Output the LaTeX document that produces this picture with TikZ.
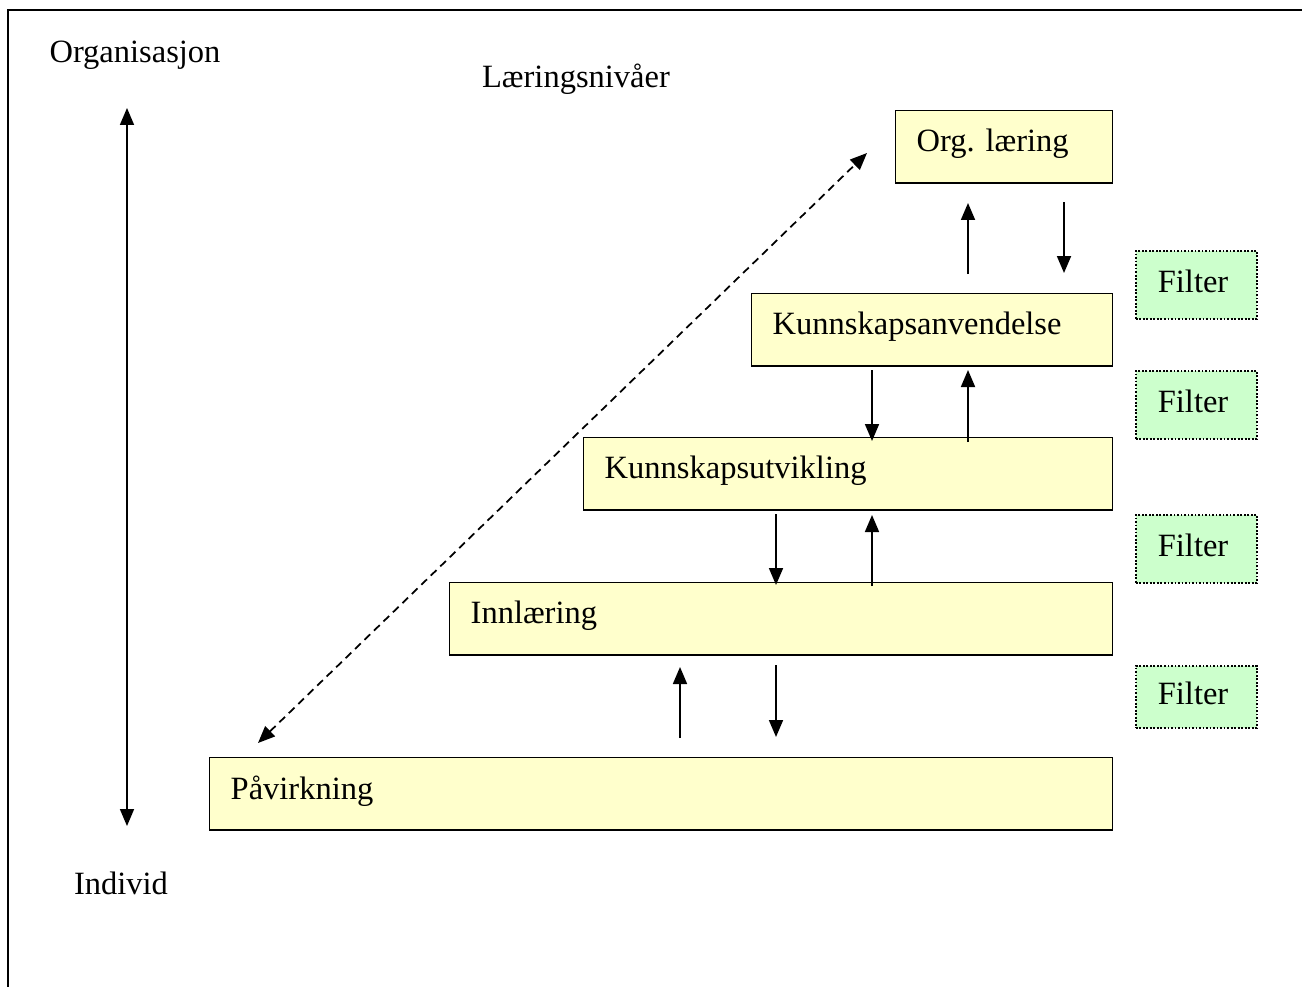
\documentclass[tikz,border=0pt]{standalone}
\usepackage{fontspec}
\setmainfont{Liberation Serif}
\usetikzlibrary{arrows.meta,positioning}
\definecolor{levelfill}{HTML}{FFFFCC}
\definecolor{filterfill}{HTML}{CCFFCC}

\begin{document}
\frenchspacing
\begin{tikzpicture}[x=0.02cm, y=-0.02cm, font=\fontsize{18.5}{22}\selectfont,
    level/.style={draw, line width=0.8pt, fill=levelfill, anchor=north west, align=left, inner xsep=0.42cm, text depth=0.26cm, minimum height=1.45cm},
    filter/.style={draw, densely dotted, line width=1pt, fill=filterfill, anchor=north west, align=left, text width=1.54cm, inner xsep=0.44cm, text depth=0.16cm, minimum height=1.36cm},
    arrow/.style={line width=1pt, -{Triangle[length=0.34cm,width=0.28cm]}},
    dblarrow/.style={line width=1pt, {Triangle[length=0.34cm,width=0.28cm]}-{Triangle[length=0.34cm,width=0.28cm]}}]

        \useasboundingbox (0,0) rectangle (1302,987);

        % frame
        \coordinate (frame_corner) at (8,10);
        \coordinate (frame_right) at (1302,10);
        \coordinate (frame_bottom) at (8,987);
        \draw [line width=1.1pt] (frame_bottom) -- (frame_corner) -- (frame_right);

        % labels
        \node (organisasjon) at (135,55) {Organisasjon};
        \node (individ) at (121,883) {Individ};
        \node (niva) at (576,79) {Læringsnivåer};

        % levels
        \node [level, text width=3.5cm] (org) at (895,110) {Org. læring};
        \node [level, text width=6.38cm] (anv) at (751,293) {Kunnskapsanvendelse};
        \node [level, text width=9.74cm] (utv) at (583,437) {Kunnskapsutvikling};
        \node [level, text width=12.42cm] (inn) at (449,582) {Innlæring};
        \node [level, text width=17.22cm] (pav) at (209,757) {Påvirkning};

        % filters
        \node [filter] (filter1) at (1135,250) {Filter};
        \node [filter] (filter2) at (1135,370) {Filter};
        \node [filter] (filter3) at (1135,514) {Filter};
        \node [filter, minimum height=1.24cm] (filter4) at (1135,665) {Filter};

        % Organisasjon - Individ
        \coordinate (org_top) at (127,108);
        \coordinate (ind_bottom) at (127,826);
        \draw [dblarrow] (org_top) -- (ind_bottom);

        % dashed diagonal
        \coordinate (dash_top) at (867,153);
        \coordinate (dash_bottom) at (258,743);
        \draw [dblarrow, dash pattern=on 4.5pt off 3pt] (dash_bottom) -- (dash_top);

        % Org. laering <-> Kunnskapsanvendelse
        \coordinate (a1_start) at (968,274);
        \coordinate (a1_end) at (968,203);
        \coordinate (a2_start) at (1064,202);
        \coordinate (a2_end) at (1064,273);
        \draw [arrow] (a1_start) -- (a1_end);
        \draw [arrow] (a2_start) -- (a2_end);

        % Kunnskapsanvendelse <-> Kunnskapsutvikling
        \coordinate (b1_start) at (872,370);
        \coordinate (b1_end) at (872,441);
        \coordinate (b2_start) at (968,442);
        \coordinate (b2_end) at (968,370);
        \draw [arrow] (b1_start) -- (b1_end);
        \draw [arrow] (b2_start) -- (b2_end);

        % Kunnskapsutvikling <-> Innlaering
        \coordinate (c1_start) at (776,514);
        \coordinate (c1_end) at (776,585);
        \coordinate (c2_start) at (872,586);
        \coordinate (c2_end) at (872,515);
        \draw [arrow] (c1_start) -- (c1_end);
        \draw [arrow] (c2_start) -- (c2_end);

        % Innlaering <-> Paavirkning
        \coordinate (d1_start) at (680,738);
        \coordinate (d1_end) at (680,667);
        \coordinate (d2_start) at (776,665);
        \coordinate (d2_end) at (776,737);
        \draw [arrow] (d1_start) -- (d1_end);
        \draw [arrow] (d2_start) -- (d2_end);

    \end{tikzpicture}
\end{document}
